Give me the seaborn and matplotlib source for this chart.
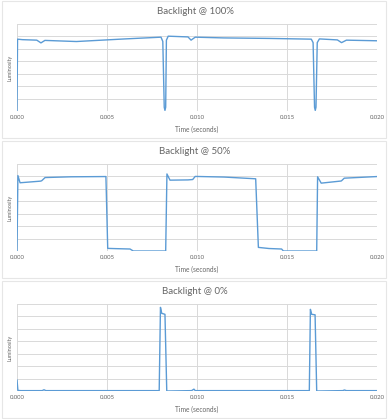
import matplotlib
matplotlib.use("Agg")
import matplotlib.pyplot as plt
from matplotlib.patches import Rectangle
from matplotlib.ticker import FormatStrFormatter, MultipleLocator
import seaborn as sns
import pandas as pd

titles = ["Backlight @ 100%", "Backlight @ 50%", "Backlight @ 0%"]
x_ticks = [0.000, 0.005, 0.010, 0.015, 0.020]

t100 = [0.0, 0.00003, 0.0003, 0.0011, 0.00133, 0.00155, 0.0033, 0.0060, 0.0080,
        0.0081, 0.00818, 0.00822, 0.00826, 0.0083, 0.0084, 0.0095, 0.00967, 0.0099,
        0.0115, 0.0140, 0.01635, 0.01645, 0.01653, 0.01657, 0.01661, 0.01668, 0.0168,
        0.0178, 0.01803, 0.0183, 0.020]
v100 = [0.0, 5.78, 5.74, 5.70, 5.48, 5.68, 5.59, 5.80, 5.94,
        5.6, 0.3, 0.05, 0.3, 5.7, 6.02, 5.96, 5.70, 5.94,
        5.88, 5.84, 5.78, 5.5, 0.3, 0.05, 0.3, 5.5, 5.80,
        5.72, 5.50, 5.70, 5.65]

t50 = [0.0, 0.00005, 0.00017, 0.0013, 0.00137, 0.00156, 0.0030, 0.00494, 0.00504,
       0.0055, 0.00628, 0.00646, 0.00826, 0.00833, 0.0085, 0.0095, 0.00976, 0.0099,
       0.0115, 0.01326, 0.01341, 0.0140, 0.0147, 0.0148, 0.01665, 0.0167, 0.0169,
       0.0180, 0.01803, 0.01818, 0.020]
v50 = [0.0, 6.07, 5.49, 5.62, 5.65, 5.91, 5.97, 5.99, 0.21,
       0.19, 0.16, 0.0, 0.0, 6.2, 5.70, 5.72, 5.75, 6.0,
       5.95, 5.81, 0.29, 0.2, 0.16, 0.0, 0.0, 5.97, 5.46,
       5.63, 5.65, 5.86, 5.99]

t0 = [0.0, 0.00005, 0.0002, 0.0014, 0.0015, 0.0016, 0.0079, 0.00797, 0.00804,
      0.00822, 0.00832, 0.0097, 0.00983, 0.0099, 0.01624, 0.0163, 0.01637, 0.01656,
      0.01665, 0.0181, 0.01819, 0.0183, 0.020]
v0 = [0.9, 0.05, 0.03, 0.03, 0.1, 0.03, 0.03, 6.73, 6.25,
      6.17, 0.0, 0.03, 0.15, 0.03, 0.03, 6.57, 6.17, 6.13,
      0.0, 0.03, 0.08, 0.03, 0.03]

series = [(t100, v100), (t50, v50), (t0, v0)]

sns.set_theme(style="white")
plt.rcParams['font.family'] = ['Lato', 'DejaVu Sans']

W, H = 390, 419
fig = plt.figure(figsize=(W / 100, H / 100), dpi=100)
fig.patch.set_facecolor("white")

panel_tops = [0, 140, 280]
line_color = "#5B9BD5"
text_color = "#666666"
grid_color = "#D9D9D9"

for i, (title, (t, v)) in enumerate(zip(titles, series)):
    top = panel_tops[i]
    # panel frame
    fig.patches.append(Rectangle((2 / W, 1 - (top + 138) / H), 384 / W, 137 / H,
                                 transform=fig.transFigure, fill=False,
                                 edgecolor="#E6E6E6", linewidth=0.8))
    ax_top = top + 24
    ax_bot = top + 111
    ax = fig.add_axes([17 / W, 1 - ax_bot / H, 360 / W, (ax_bot - ax_top) / H])
    df = pd.DataFrame({"t": t, "v": v})
    sns.lineplot(data=df, x="t", y="v", ax=ax, color=line_color, linewidth=1.0,
                 estimator=None, sort=False)
    ax.set_xlim(0, 0.020)
    ax.set_ylim(0, 7)
    ax.set_xticks(x_ticks)
    ax.xaxis.set_major_formatter(FormatStrFormatter("%.3f"))
    ax.yaxis.set_major_locator(MultipleLocator(1))
    ax.set_yticklabels([])
    ax.grid(True, color=grid_color, linewidth=0.7)
    ax.set_axisbelow(True)
    for s in ax.spines.values():
        s.set_visible(False)
    ax.tick_params(axis="both", length=0, labelsize=4.3, colors=text_color, pad=3)
    ax.set_xlabel("Time (seconds)", fontsize=4.8, color=text_color, labelpad=4)
    ax.set_ylabel("Luminosity", fontsize=4.0, color=text_color)
    ax.yaxis.set_label_coords(-0.012, 0.5)
    fig.text(195 / W, 1 - (top + 11) / H, title, ha="center", va="center",
             fontsize=7.0, color=text_color)

fig.savefig("out.png", dpi=100, facecolor="white")
